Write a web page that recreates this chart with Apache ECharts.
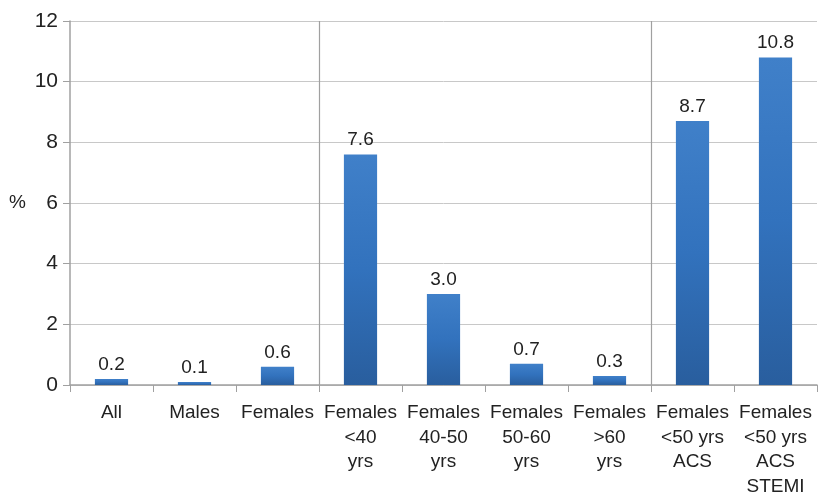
<!DOCTYPE html>
<html><head><meta charset="utf-8">
<script src="https://cdn.jsdelivr.net/npm/echarts@6/dist/echarts.min.js"></script>
<style>html,body{margin:0;padding:0;background:#fff}#c{width:821px;height:495px}</style>
</head><body><div id="c"></div>
<script>
const categories = ['All','Males','Females','Females\n<40\nyrs','Females\n40-50\nyrs','Females\n50-60\nyrs','Females\n>60\nyrs','Females\n<50 yrs\nACS','Females\n<50 yrs\nACS\nSTEMI'];
const values = [0.2,0.1,0.6,7.6,3.0,0.7,0.3,8.7,10.8];
const yTicks = [0,2,4,6,8,10,12];
const separatorsAt = [3,7];

const chart = echarts.init(document.getElementById('c'));
chart.setOption({
  animation:false,
  grid:{left:70,right:4,top:21,bottom:110,containLabel:false,outerBoundsMode:'none'},
  xAxis:[{
    type:'category',data:categories,
    axisLine:{lineStyle:{color:'#a0a0a0',width:1.5}},
    axisTick:{show:true,length:7,lineStyle:{color:'#a0a0a0'}},
    axisLabel:{color:'#222',fontSize:19,fontFamily:'Liberation Sans, Arial, sans-serif',lineHeight:24.5,margin:16,interval:0},
    splitLine:{show:false}
  },{
    type:'value',min:0,max:categories.length,show:false
  }],
  yAxis:{
    type:'value',min:0,max:12,interval:2,
    name:'%',nameLocation:'middle',nameGap:44,nameRotate:0,
    nameTextStyle:{color:'#222',fontSize:19,fontFamily:'Liberation Sans, Arial, sans-serif'},
    axisLine:{show:true,lineStyle:{color:'#a0a0a0',width:1.5}},
    axisTick:{show:true,length:7,lineStyle:{color:'#a0a0a0'}},
    axisLabel:{color:'#222',fontSize:21,fontFamily:'Liberation Sans, Arial, sans-serif',margin:12,
      formatter:function(v){return yTicks.indexOf(v)>=0?String(v):'';}},
    splitLine:{lineStyle:{color:'#c8c8c8',width:1}}
  },
  series:[{
    type:'bar',data:values,barWidth:'40%',
    itemStyle:{color:new echarts.graphic.LinearGradient(0,0,0,1,[{offset:0,color:'#4080c9'},{offset:0.5,color:'#3272bd'},{offset:1,color:'#295e9e'}])},
    label:{show:true,position:'top',distance:5,color:'#222',fontSize:19,fontFamily:'Liberation Sans, Arial, sans-serif',
      formatter:function(p){return p.value.toFixed(1);}}
  },{
    type:'line',xAxisIndex:1,data:[],silent:true,
    markLine:{silent:true,symbol:'none',label:{show:false},animation:false,
      lineStyle:{color:'#a0a0a0',width:1.2,type:'solid'},
      data:separatorsAt.map(function(v){return {xAxis:v};})}
  }]
});
</script></body></html>
